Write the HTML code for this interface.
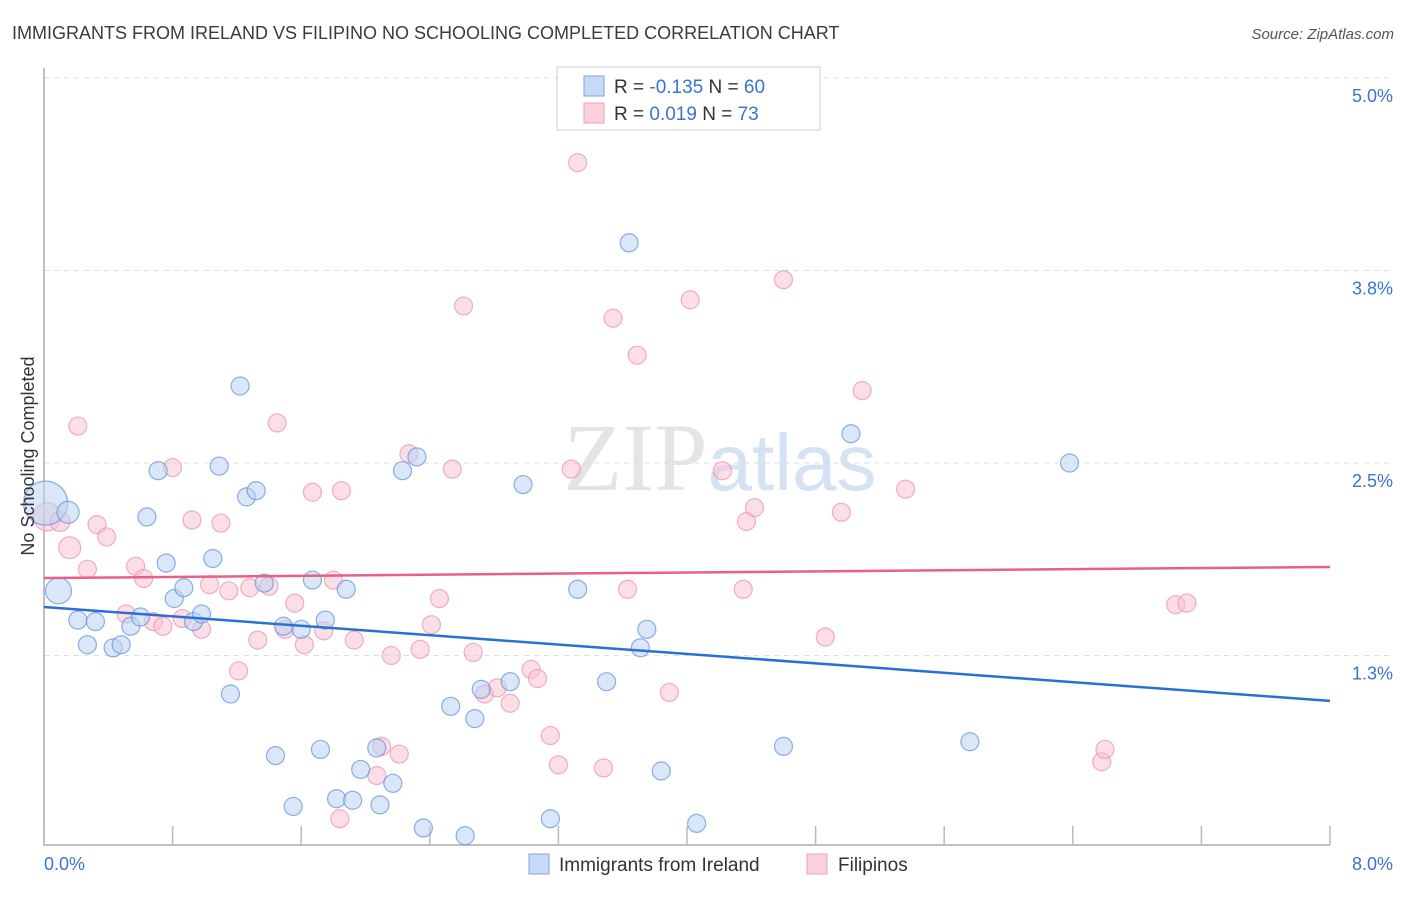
<!DOCTYPE html>
<html><head><meta charset="utf-8"><style>
body{margin:0;background:#fff;font-family:"Liberation Sans",sans-serif;}
svg text{font-family:"Liberation Sans",sans-serif;}
</style></head><body>
<svg id="chart" width="1406" height="892">
<text x="12" y="39" font-size="18" fill="#3b3b3b">IMMIGRANTS FROM IRELAND VS FILIPINO NO SCHOOLING COMPLETED CORRELATION CHART</text>
<text x="1394" y="39" font-size="15" fill="#555" font-style="italic" text-anchor="end">Source: ZipAtlas.com</text>
<text x="720" y="490" font-size="96" fill="#e4e4e4" text-anchor="middle" font-family="Liberation Serif"><tspan font-family="Liberation Serif">ZIP</tspan><tspan fill="#d5e2f3" font-family="Liberation Sans" font-size="80">atlas</tspan></text>
<g id="grid"></g>
<g id="axes"></g>
<g id="pts"></g>
<g id="lines"></g>
<text transform="translate(34,456) rotate(-90)" font-size="18" fill="#333" text-anchor="middle">No Schooling Completed</text>
<g>
<rect x="557" y="67" width="263" height="63" fill="#fff" stroke="#ccc"/>
<rect x="584" y="76" width="20" height="20" fill="#c6daf5" stroke="#7aa6e0"/>
<text x="614" y="93" font-size="19" fill="#333">R = <tspan fill="#3a73d4">-0.135</tspan>   N = <tspan fill="#3a73d4">60</tspan></text>
<rect x="584" y="103" width="20" height="20" fill="#fad0dc" stroke="#eea0b6"/>
<text x="614" y="120" font-size="19" fill="#333">R =  <tspan fill="#3a73d4">0.019</tspan>   N = <tspan fill="#3a73d4">73</tspan></text>
</g>
<g>
<rect x="529" y="854" width="20" height="20" fill="#c6daf5" stroke="#7aa6e0"/>
<text x="559" y="871" font-size="19" fill="#333">Immigrants from Ireland</text>
<rect x="807" y="854" width="20" height="20" fill="#fad0dc" stroke="#eea0b6"/>
<text x="838" y="871" font-size="19" fill="#333">Filipinos</text>
</g>
</svg>
<script>
const blueX=[0.01,0.15,0.09,0.21,0.32,0.27,0.43,0.48,0.54,0.60,0.64,0.71,0.76,0.81,0.87,0.93,0.98,1.05,1.09,1.16,1.22,1.26,1.32,1.37,1.44,1.49,1.55,1.60,1.67,1.72,1.75,1.82,1.88,1.92,1.97,2.07,2.09,2.17,2.23,2.32,2.36,2.53,2.62,2.68,2.72,2.90,2.98,3.15,3.32,3.50,3.64,3.71,3.75,3.84,4.06,4.60,5.02,5.76,6.38];
const blueY=[2.24,2.18,1.67,1.48,1.47,1.32,1.30,1.32,1.44,1.50,2.15,2.45,1.85,1.62,1.69,1.47,1.52,1.88,2.48,1.00,3.00,2.28,2.32,1.72,0.60,1.44,0.27,1.42,1.74,0.64,1.48,0.32,1.68,0.31,0.51,0.65,0.28,0.42,2.45,2.54,0.13,0.92,0.08,0.84,1.03,1.08,2.36,0.19,1.68,1.08,3.93,1.30,1.42,0.50,0.16,0.66,2.69,0.69,2.50];
const blueSize=[22,11,13];
const pinkX=[0.02,0.10,0.16,0.21,0.27,0.33,0.39,0.51,0.57,0.62,0.68,0.74,0.80,0.86,0.92,0.98,1.03,1.10,1.15,1.21,1.28,1.33,1.40,1.45,1.50,1.56,1.62,1.67,1.74,1.80,1.85,1.93,2.07,2.10,2.16,2.21,2.27,2.34,2.41,2.46,2.54,2.61,2.67,2.74,2.82,2.90,3.03,3.07,3.15,3.20,3.28,3.32,3.48,3.54,3.63,3.69,3.89,4.02,4.22,4.35,4.37,4.42,4.60,4.86,4.96,5.09,5.36,6.58,6.60,7.04,7.11,1.84];
const pinkY=[2.15,2.12,1.95,2.74,1.81,2.10,2.02,1.52,1.83,1.75,1.47,1.44,2.47,1.49,2.13,1.42,1.71,2.11,1.67,1.15,1.69,1.35,1.70,2.76,1.42,1.59,1.32,2.31,1.41,1.74,2.32,1.35,0.47,0.66,1.25,0.61,2.56,1.29,1.45,1.62,2.46,3.52,1.27,1.00,1.04,0.94,1.16,1.10,0.73,0.54,2.46,4.45,0.52,3.44,1.68,3.20,1.01,3.56,2.45,1.68,2.12,2.21,3.69,1.37,2.18,2.97,2.33,0.56,0.64,1.58,1.59,0.19];
const pinkSize=[14,10,11];
const blueTrend=[1.565,0.955];
const pinkTrend=[1.753,1.825];
const yTicks=[1.25,2.5,3.75,5.0];
const yTickLabels=["1.3%","2.5%","3.8%","5.0%"];
const xTicks=[0,0.8,1.6,2.4,3.2,4.0,4.8,5.6,6.4,7.2,8.0];
const xTickLabels=["0.0%","8.0%"];
const NS="http://www.w3.org/2000/svg";
const X=v=>44+v/8*1286, Y=v=>848-v*154;
function mk(t,a,p){const e=document.createElementNS(NS,t);for(const k in a)e.setAttribute(k,a[k]);p.appendChild(e);return e;}
const grid=document.getElementById('grid'),axes=document.getElementById('axes'),pts=document.getElementById('pts'),lines=document.getElementById('lines');
yTicks.forEach((v,i)=>{
 const l=mk('line',{x1:44,x2:1394,y1:Y(v),y2:Y(v),stroke:'#ddd','stroke-dasharray':'5,5'},grid);
 
 
 const t=mk('text',{x:1393,y:Y(v)+24,'font-size':18,fill:'#3a73d4','text-anchor':'end'},grid);
 t.textContent=yTickLabels[i];
 
 
});
const ax=mk('path',{d:`M44,68 V${Y(0)-3} H${X(8)}`,stroke:'#aaa',fill:'none','stroke-width':1.5},axes);


xTicks.forEach(v=>{
 const t=mk('line',{x1:X(v),x2:X(v),y1:Y(0)-3,y2:Y(0)-22,stroke:'#bbb','stroke-width':1.5},axes);
 
 
});
[[0,'start'],[8,'end']].forEach((p,i)=>{
 const t=mk('text',{x:X(p[0])+(i?63:0),y:870,'font-size':18,fill:'#3a73d4','text-anchor':p[1]},axes);
 t.textContent=xTickLabels[i];
 
 
});
function dots(xs,ys,sz,fill,stroke,name){xs.forEach((x,i)=>{
 const c=mk('circle',{cx:X(x),cy:Y(ys[i]),r:sz[i]||9,fill:fill,'fill-opacity':0.55,stroke:stroke,'stroke-opacity':0.7,'stroke-width':1.2},pts);
 
 
});}
dots(pinkX,pinkY,pinkSize,'#f8c3d2','#ec8fac','filipinos-point');
dots(blueX,blueY,blueSize,'#bcd3f3','#5d8fdb','ireland-point');
const bl=mk('line',{x1:X(0),x2:X(8),y1:Y(blueTrend[0]),y2:Y(blueTrend[1]),stroke:'#2a6fd6','stroke-width':2.5},lines);


const pl=mk('line',{x1:X(0),x2:X(8),y1:Y(pinkTrend[0]),y2:Y(pinkTrend[1]),stroke:'#e8608a','stroke-width':2.5},lines);


</script>
</body></html>
